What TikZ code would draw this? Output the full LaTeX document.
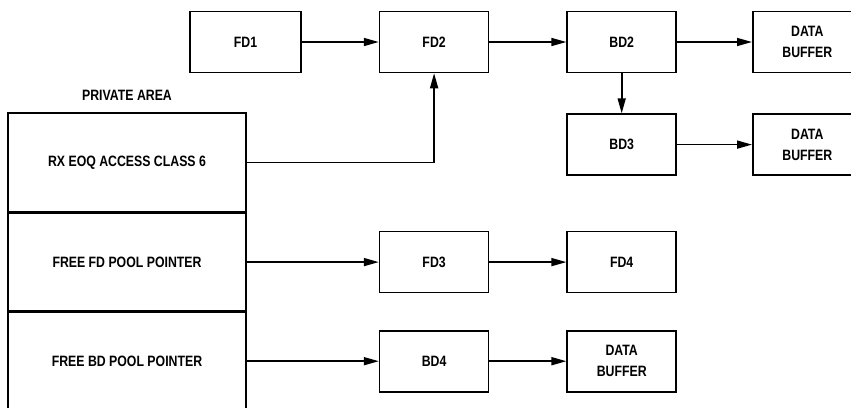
\documentclass[tikz,border=0pt]{standalone}
\usepackage{fontspec}
\setmainfont{Liberation Sans}[FakeStretch=0.82]
\usepackage{tikz}
\usetikzlibrary{arrows.meta,positioning}

\begin{document}
\begin{tikzpicture}[
  node distance=77pt,
  box/.style={rectangle, draw, line width=1.6pt, minimum width=109pt, minimum height=61pt, inner sep=2pt, align=center, font=\fontsize{15}{21}\selectfont\bfseries},
  cell/.style={rectangle, draw, line width=1.6pt, minimum width=238pt, inner sep=0pt, font=\fontsize{15}{21}\selectfont\bfseries},
  arrow/.style={-{Triangle[length=15pt,width=8pt]}, line width=1.6pt}
]
\useasboundingbox (0,0) rectangle (851pt,-407pt);

\node[box, minimum width=111pt] (fdone) at (245.5pt,-42pt) {FD1};
\node[box, right=of fdone] (fdtwo) {FD2};
\node[box, right=of fdtwo] (bdtwo) {BD2};
\node[box, right=75pt of bdtwo] (bufa) {DATA\\BUFFER};
\node[box, below=40pt of bdtwo] (bdthree) {BD3};
\node[box, right=75pt of bdthree] (bufb) {DATA\\BUFFER};

\node[cell, minimum height=99pt] (rxeoq) at (127pt,-162.5pt) {RX EOQ ACCESS CLASS 6};
\node[cell, minimum height=97pt, below=0pt of rxeoq] (freefd) {FREE FD POOL POINTER};
\node[cell, minimum height=98pt, below=0pt of freefd] (freebd) {FREE BD POOL POINTER};
\node[font=\fontsize{15}{16}\selectfont\bfseries, above=8pt of rxeoq] (private) {PRIVATE AREA};

\node[box, right=132pt of freefd] (fdthree) {FD3};
\node[box, right=of fdthree] (fdfour) {FD4};
\node[box, right=132pt of freebd] (bdfour) {BD4};
\node[box, right=of bdfour] (bufc) {DATA\\BUFFER};

\draw[arrow] (fdone) -- (fdtwo);
\draw[arrow] (fdtwo) -- (bdtwo);
\draw[arrow] (bdtwo) -- (bufa);
\draw[arrow] (bdtwo) -- (bdthree);
\draw[arrow] (bdthree) -- (bufb);
\draw[arrow] (rxeoq.east) -| (fdtwo.south);
\draw[arrow] (freefd) -- (fdthree);
\draw[arrow] (fdthree) -- (fdfour);
\draw[arrow] (freebd) -- (bdfour);
\draw[arrow] (bdfour) -- (bufc);
\end{tikzpicture}
\end{document}
